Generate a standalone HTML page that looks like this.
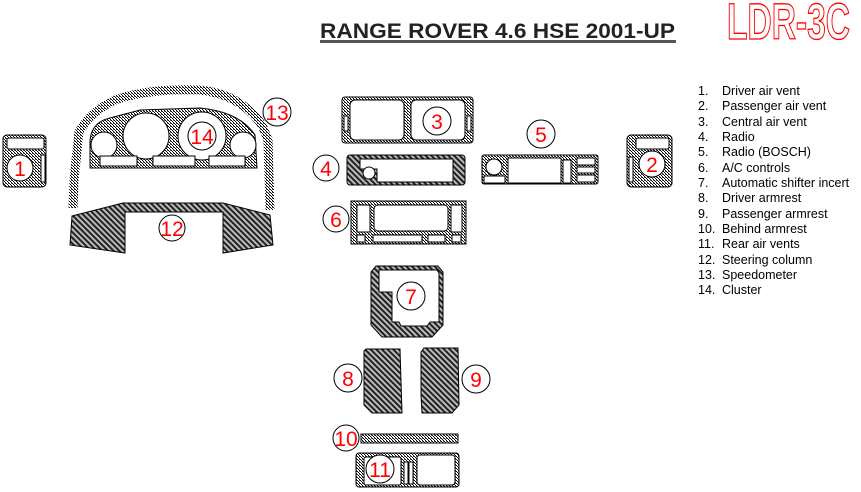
<!DOCTYPE html>
<html><head><meta charset="utf-8"><style>
html,body{margin:0;padding:0;background:#fff;}
svg{display:block;}
text{font-family:"Liberation Sans",Arial,sans-serif;}
</style></head><body>
<svg width="861" height="492" viewBox="0 0 861 492" xmlns="http://www.w3.org/2000/svg">
<defs>
<pattern id="h" width="3" height="3" patternUnits="userSpaceOnUse">
<rect width="3" height="3" fill="#fff"/>
<rect x="0" y="0" width="1" height="1" fill="#000"/>
<rect x="1" y="1" width="1" height="1" fill="#000"/>
<rect x="2" y="2" width="1" height="1" fill="#000"/>
<rect x="2" y="0" width="1" height="1" fill="#666"/>
</pattern>
<pattern id="d" width="4" height="4" patternUnits="userSpaceOnUse" patternTransform="rotate(45)">
<rect width="4" height="4" fill="#bbb"/>
<rect width="4" height="2" fill="#222"/>
</pattern>
</defs>

<!-- Title -->
<text x="320" y="38" font-size="21" font-weight="bold" fill="#222" textLength="355" lengthAdjust="spacingAndGlyphs">RANGE ROVER 4.6 HSE 2001-UP</text>
<rect x="320" y="40" width="356" height="3" fill="#555"/>
<text x="727" y="39" font-size="46" font-weight="bold" fill="#fff" stroke="red" stroke-width="1.2" textLength="123" lengthAdjust="spacingAndGlyphs" transform="translate(0,-4) scale(1,1.1)">LDR-3C</text>

<g stroke="#000" stroke-width="1">
<!-- Item 1 -->
<rect x="3" y="135" width="43" height="52" rx="4" fill="url(#h)"/>
<rect x="7" y="138" width="37" height="11" rx="2" fill="#fff"/>
<rect x="41" y="155" width="4" height="27" fill="#fff"/>
<!-- Item 2 -->
<rect x="627" y="135" width="45" height="52" rx="4" fill="url(#h)"/>
<rect x="636" y="138" width="33" height="11" rx="2" fill="#fff"/>
<rect x="629" y="157" width="4" height="25" fill="#fff"/>

<!-- Item 13 outer arch -->
<path d="M73,208 L74,180 L79,132 Q90,112 115,100 Q150,88 200,90 Q240,94 262,125 L268,140 L270,210" fill="none" stroke="url(#h)" stroke-width="9"/>
<!-- Item 14 cluster -->
<path d="M90,140 Q92,122 110,118 L140,110 L200,108 Q240,112 255,135 L257,168 L90,168 Z" fill="url(#h)"/>
<circle cx="104" cy="145" r="13" fill="#fff"/>
<circle cx="146" cy="136" r="23" fill="#fff"/>
<circle cx="202" cy="136" r="24" fill="#fff"/>
<circle cx="243" cy="145" r="13" fill="#fff"/>
<rect x="100" y="156" width="37" height="10" fill="#fff"/>
<rect x="153" y="156" width="42" height="10" fill="#fff"/>
<rect x="209" y="156" width="36" height="10" fill="#fff"/>
<!-- Item 12 -->
<path d="M72,216 L123,203 L223,203 L270,215 L273,245 L223,253 L223,212 L125,212 L125,253 L70,245 Z" fill="url(#d)"/>

<!-- Item 3 -->
<rect x="342" y="97" width="131" height="46" rx="3" fill="url(#h)"/>
<rect x="350" y="100" width="54" height="40" rx="5" fill="#fff"/>
<rect x="411" y="100" width="54" height="40" rx="5" fill="#fff"/>
<rect x="344" y="116" width="4" height="15" fill="#fff"/>
<rect x="467" y="116" width="4" height="15" fill="#fff"/>
<!-- Item 4 -->
<rect x="347" y="155" width="118" height="30" rx="3" fill="url(#d)"/>
<path d="M360,159 L453,159 L453,182 L377,182 L377,169 L360,169 Z" fill="#fff"/>
<circle cx="369" cy="173" r="6" fill="#fff"/>
<!-- Item 5 -->
<rect x="482" y="155" width="116" height="29" rx="2" fill="url(#h)"/>
<circle cx="494" cy="167" r="8" fill="#fff"/>
<rect x="484" y="176" width="21" height="7" fill="#fff"/>
<rect x="508" y="158" width="53" height="25" fill="#fff"/>
<rect x="563" y="160" width="8" height="23" fill="#fff"/>
<rect x="577" y="158" width="18" height="7" fill="#fff"/>
<rect x="577" y="167" width="18" height="6" fill="#fff"/>
<rect x="577" y="175" width="18" height="7" fill="#fff"/>
<!-- Item 6 -->
<rect x="351" y="201" width="115" height="43" fill="url(#h)"/>
<rect x="357" y="205" width="13" height="27" fill="#fff"/>
<rect x="374" y="205" width="74" height="26" rx="4" fill="#fff"/>
<rect x="451" y="205" width="11" height="27" fill="#fff"/>
<rect x="357" y="235" width="8" height="7" fill="#fff"/>
<rect x="373" y="235" width="49" height="7" fill="#fff"/>
<rect x="428" y="235" width="17" height="7" fill="#fff"/>
<rect x="452" y="235" width="9" height="7" fill="#fff"/>
<!-- Item 7 -->
<path d="M376,266 L438,266 L443,272 L443,325 L432,337 L382,337 L371,325 L371,272 Z" fill="url(#d)"/>
<path d="M379,270 L437,270 L439,273 L439,322 L430,322 L427,326 L401,326 L399,322 L392,322 L392,292 L379,292 Z" fill="#fff"/>
<!-- Items 8 9 -->
<path d="M366,349 L400,349 L401,382 L402,413 L372,413 L364,405 L364,351 Z" fill="url(#d)"/>
<path d="M424,348 L458,348 L459,405 L452,413 L422,413 L421,395 L421,352 Z" fill="url(#d)"/>
<!-- Item 10 -->
<rect x="361" y="434" width="97" height="9" fill="url(#h)"/>
<!-- Item 11 -->
<rect x="356" y="453" width="103" height="34" rx="3" fill="url(#h)"/>
<rect x="364" y="457" width="37" height="28" rx="2" fill="#fff"/>
<rect x="404" y="462" width="4" height="22" fill="#fff"/>
<rect x="409" y="462" width="4" height="22" fill="#fff"/>
<rect x="417" y="455" width="38" height="30" rx="3" fill="#fff"/>
</g>

<!-- Number circles -->
<g fill="#fff" stroke="#000" stroke-width="1">
<circle cx="20" cy="168" r="13"/>
<circle cx="652" cy="164" r="13"/>
<circle cx="437" cy="121" r="14"/>
<circle cx="326" cy="168" r="13"/>
<circle cx="541" cy="134" r="14"/>
<circle cx="336" cy="219" r="13"/>
<circle cx="411" cy="296" r="14"/>
<circle cx="348" cy="378" r="14"/>
<circle cx="476" cy="379" r="14"/>
<circle cx="346" cy="438" r="13"/>
<circle cx="380" cy="469" r="14"/>
<circle cx="172" cy="228" r="13"/>
<circle cx="277" cy="112" r="14"/>
<circle cx="202" cy="136" r="14"/>
</g>
<g fill="red" font-family="Liberation Serif,serif" font-size="21" text-anchor="middle">
<text x="20" y="176">1</text>
<text x="652" y="172">2</text>
<text x="437" y="129">3</text>
<text x="326" y="176">4</text>
<text x="541" y="142">5</text>
<text x="336" y="227">6</text>
<text x="411" y="304">7</text>
<text x="348" y="386">8</text>
<text x="476" y="387">9</text>
<text x="346" y="446">10</text>
<text x="380" y="477">11</text>
<text x="172" y="236">12</text>
<text x="277" y="120">13</text>
<text x="202" y="144">14</text>
</g>

<!-- Legend -->
<g font-size="12.5" fill="#000">
<text x="698" y="95">1.</text><text x="722" y="95">Driver air vent</text>
<text x="698" y="110">2.</text><text x="722" y="110">Passenger air vent</text>
<text x="698" y="126">3.</text><text x="722" y="126">Central air vent</text>
<text x="698" y="141">4.</text><text x="722" y="141">Radio</text>
<text x="698" y="156">5.</text><text x="722" y="156">Radio (BOSCH)</text>
<text x="698" y="172">6.</text><text x="722" y="172">A/C controls</text>
<text x="698" y="187">7.</text><text x="722" y="187">Automatic shifter incert</text>
<text x="698" y="202">8.</text><text x="722" y="202">Driver armrest</text>
<text x="698" y="218">9.</text><text x="722" y="218">Passenger armrest</text>
<text x="698" y="233">10.</text><text x="722" y="233">Behind armrest</text>
<text x="698" y="248">11.</text><text x="722" y="248">Rear air vents</text>
<text x="698" y="264">12.</text><text x="722" y="264">Steering column</text>
<text x="698" y="279">13.</text><text x="722" y="279">Speedometer</text>
<text x="698" y="294">14.</text><text x="722" y="294">Cluster</text>
</g>
</svg>
</body></html>
